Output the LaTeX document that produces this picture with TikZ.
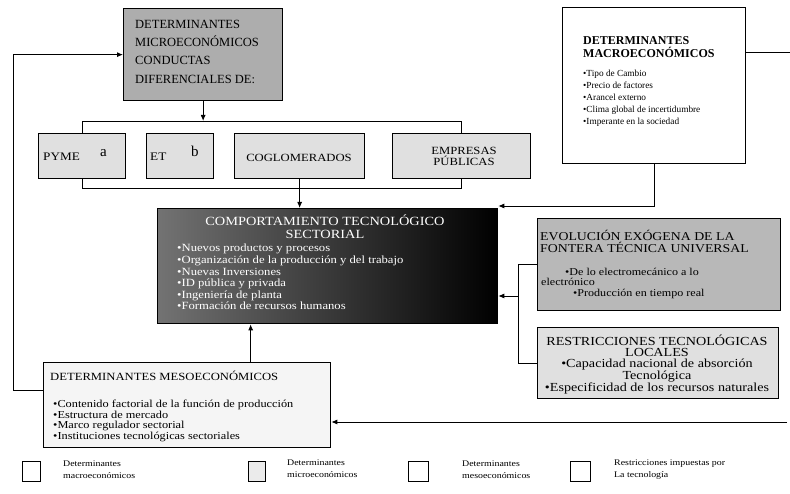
\documentclass[tikz,border=0pt]{standalone}
\usepackage{fontspec}
\setmainfont{Liberation Serif}
\newfontfamily\widefam[FakeStretch=1.15]{Liberation Serif}
\usetikzlibrary{arrows.meta,calc}
\begin{document}
\begin{tikzpicture}[x=1pt,y=-1pt,
  box/.style={draw, line width=1.3pt, inner sep=0pt, anchor=north west},
  conn/.style={line width=0.9pt},
  arr/.style={conn, -{Latex[length=6pt,width=5pt]}},
  txt/.style={inner sep=0pt, anchor=base west, align=left},
  mtxt/.style={inner sep=0pt, anchor=north west, align=left},
  ctxt/.style={inner sep=0pt, anchor=base, align=center},
  mctxt/.style={inner sep=0pt, anchor=north, align=center},
  legtxt/.style={mtxt, font=\widefam\fontsize{8.6}{12}\selectfont}]
\useasboundingbox (0,0) rectangle (790,494);
\fill[white] (0,0) rectangle (790,494);

% boxes
\node[box, fill=black!32, minimum width=159pt, minimum height=92pt] (micro) at (123,8) {};
\node[box, fill=black!12, minimum width=87pt, minimum height=45pt] (pyme) at (38,133) {};
\node[box, fill=black!12, minimum width=67pt, minimum height=45pt] (et) at (146,133) {};
\node[box, fill=black!12, minimum width=130pt, minimum height=45pt] (coglo) at (234,133) {};
\node[box, fill=black!12, minimum width=138pt, minimum height=45pt] (pub) at (392,133) {};
\node[box, left color=black!55, right color=black, minimum width=340pt, minimum height=115pt] (central) at (157,208) {};
\node[box, fill=white, minimum width=183pt, minimum height=156pt] (macro) at (562,7) {};
\node[box, fill=black!28, minimum width=243pt, minimum height=92pt] (evo) at (537,218) {};
\node[box, fill=black!12, minimum width=241pt, minimum height=71pt] (restr) at (537,327) {};
\node[box, fill=black!4, minimum width=287pt, minimum height=85pt] (meso) at (43,362) {};

% texts
\node[mtxt, font=\fontsize{12.5}{18.2}\selectfont] (tmicro) at (135,20) {DETERMINANTES\\MICROECONÓMICOS\\CONDUCTAS\\DIFERENCIALES DE:};
\node[txt, font=\widefam\fontsize{11.5}{12}\selectfont] (tpyme) at (43,161) {PYME};
\node[txt, font=\fontsize{15}{15}\selectfont] (ta) at (100,157) {a};
\node[txt, font=\widefam\fontsize{11.5}{12}\selectfont] (tet) at (150,161) {ET};
\node[txt, font=\fontsize{15}{15}\selectfont] (tb) at (191,157) {b};
\node[ctxt, font=\widefam\fontsize{11}{12}\selectfont] (tcoglo) at (299,162) {COGLOMERADOS};
\node[mctxt, font=\widefam\fontsize{11}{11}\selectfont] (tpub) at (464,147) {EMPRESAS\\PÚBLICAS};
\node[mctxt, font=\widefam\fontsize{12.5}{13}\selectfont, text=white] (tcent) at (325,215) {COMPORTAMIENTO TECNOLÓGICO\\SECTORIAL};
\node[mtxt, font=\widefam\fontsize{11}{11.6}\selectfont, text=white] (tcentb) at (177,244) {•Nuevos productos y procesos\\•Organización de la producción y del trabajo\\•Nuevas Inversiones\\•ID pública y privada\\•Ingeniería de planta\\•Formación de recursos humanos};
\node[mtxt, font=\bfseries\fontsize{12}{13}\selectfont] (tmacro) at (583,36) {DETERMINANTES\\MACROECONÓMICOS};
\node[mtxt, font=\fontsize{9.3}{12}\selectfont] (tmacrob) at (583,70) {•Tipo de Cambio\\•Precio de factores\\•Arancel externo\\•Clima global de incertidumbre\\•Imperante en la sociedad};
\node[mtxt, font=\widefam\fontsize{12}{12}\selectfont] (tevo) at (540,230) {EVOLUCIÓN EXÓGENA DE LA\\FONTERA TÉCNICA UNIVERSAL};
\node[txt, font=\widefam\fontsize{10.5}{10.5}\selectfont] (tevob) at (565,276) {•De lo electromecánico a lo};
\node[txt, font=\widefam\fontsize{10.5}{10.5}\selectfont] (tevoc) at (541,286) {electrónico};
\node[txt, font=\widefam\fontsize{10.5}{10.5}\selectfont] (tevod) at (573,297) {•Producción en tiempo real};
\node[mctxt, font=\widefam\fontsize{12.3}{10.8}\selectfont] (trestr) at (657,335) {RESTRICCIONES TECNOLÓGICAS\\LOCALES\\•Capacidad nacional de absorción\\Tecnológica\\•Especificidad de los recursos naturales};
\node[txt, font=\widefam\fontsize{11}{12}\selectfont] (tmeso) at (50,381) {DETERMINANTES MESOECONÓMICOS};
\node[mtxt, font=\widefam\fontsize{10.7}{10.5}\selectfont] (tmesob) at (53,400) {•Contenido factorial de la función de producción\\•Estructura de mercado\\•Marco regulador sectorial\\•Instituciones tecnológicas sectoriales};

% connectors
\coordinate (L1) at (13,390);
\draw[arr] (meso.west |- L1) -- (L1) |- (micro.west);
\coordinate (bt) at (0,121);
\coordinate (bb) at (0,188);
\draw[arr] (micro.south) -- (micro.south |- bt);
\draw[conn] (pyme.north) |- (pub.north |- bt) -- (pub.north);
\draw[conn] (pyme.south) |- (pub.south |- bb) -- (pub.south);
\draw[arr] (coglo.south) -- (coglo.south |- central.north);
\draw[arr] (macro.south) |- ([yshift=2pt]central.north east);
\coordinate (R1) at (790,52);
\coordinate (R2) at (787,422);
\draw[conn] (R1 -| macro.east) -- (R1);
\draw[arr] (R2) -- (R2 -| meso.east);
\coordinate (J) at (518,296);
\draw[conn] (evo.west) -| (J);
\draw[conn] (restr.west) -| (J);
\draw[arr] (J) -- (J -| central.east);
\draw[arr] ([xshift=63.5pt]meso.north) -- ([xshift=63.5pt]meso.north |- central.south);

% legend
\node[box, line width=1pt, minimum width=18pt, minimum height=20pt] (lg1) at (22,461) {};
\node[box, line width=1pt, fill=black!8, minimum width=17pt, minimum height=20pt] (lg2) at (248,461) {};
\node[box, line width=1pt, minimum width=20pt, minimum height=20pt] (lg3) at (408,461) {};
\node[box, line width=1pt, minimum width=20pt, minimum height=20pt] (lg4) at (570,461) {};
\node[legtxt] (lt1) at (63,461) {Determinantes\\macroeconómicos};
\node[legtxt] (lt2) at (287,460) {Determinantes\\microeconómicos};
\node[legtxt] (lt3) at (462,461) {Determinantes\\mesoeconómicos};
\node[legtxt] (lt4) at (614,460) {Restricciones impuestas por\\La tecnología};
\end{tikzpicture}
\end{document}
